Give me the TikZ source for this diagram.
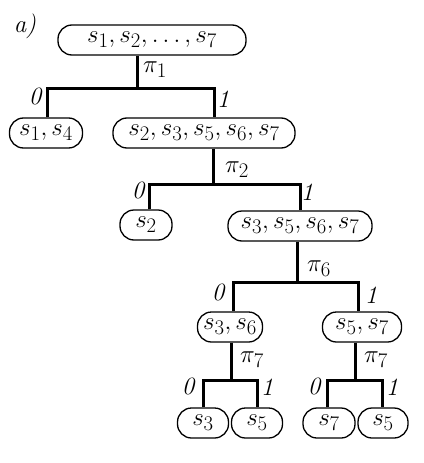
\documentclass[tikz,border=0pt]{standalone}
\begin{document}
\begin{tikzpicture}[x=1pt,y=-1pt,
  st/.style={draw,line width=1.3pt,rounded corners=14pt,minimum height=30pt,inner sep=1pt,font=\Huge},
  br/.style={line width=3pt},
  lab/.style={font=\Huge\itshape,inner sep=1pt},
  plab/.style={font=\Huge,inner sep=1pt}]
\useasboundingbox (0,0) rectangle (423,463);
\node[lab] (a) at (25,26) {a)};
\node[st,minimum width=188pt] (r) at (152,40) {$s_1, s_2, \ldots, s_7$};
\node[st,minimum width=73pt] (n1) at (46,133) {$s_1, s_4$};
\node[st,minimum width=182pt] (n2) at (204,133) {$s_2, s_3, s_5, s_6, s_7$};
\node[st,minimum width=52pt] (n3) at (146,225) {$s_2$};
\node[st,minimum width=144pt] (n4) at (300,226) {$s_3, s_5, s_6, s_7$};
\node[st,minimum width=65pt] (n5) at (230,327) {$s_3, s_6$};
\node[st,minimum width=79pt] (n6) at (362,327) {$s_5, s_7$};
\node[st,minimum width=51pt] (l1) at (203,423) {$s_3$};
\node[st,minimum width=51pt] (l2) at (257,423) {$s_5$};
\node[st,minimum width=52pt] (l3) at (329,423) {$s_7$};
\node[st,minimum width=50pt] (l4) at (383,423) {$s_5$};
% split 1
\coordinate (m1) at (137,88); \coordinate (a1) at (47,88); \coordinate (b1) at (214,88);
\draw[br] (r.south -| m1) -- (m1);
\draw[br] (n1.north -| a1) -- (a1) -- (b1) -- (n2.north -| b1);
\node[plab] (p1) at (155,70) {$\pi_1$};
\node[lab] (z1) at (35,96) {0};
\node[lab] (o1) at (223,99) {1};
% split 2
\coordinate (m2) at (213,184); \coordinate (a2) at (149,184); \coordinate (b2) at (300,184);
\draw[br] (n2.south -| m2) -- (m2);
\draw[br] (n3.north -| a2) -- (a2) -- (b2) -- (n4.north -| b2);
\node[plab] (p2) at (237,170) {$\pi_2$};
\node[lab] (z2) at (138,190) {0};
\node[lab] (o2) at (307,192) {1};
% split 3
\coordinate (m3) at (297,282); \coordinate (a3) at (233,282); \coordinate (b3) at (358,282);
\draw[br] (n4.south -| m3) -- (m3);
\draw[br] (n5.north -| a3) -- (a3) -- (b3) -- (n6.north -| b3);
\node[plab] (p3) at (319,269) {$\pi_6$};
\node[lab] (z3) at (218,292) {0};
\node[lab] (o3) at (371,295) {1};
% split 4
\coordinate (m4) at (231,380); \coordinate (a4) at (203,380); \coordinate (b4) at (257,380);
\draw[br] (n5.south -| m4) -- (m4);
\draw[br] (l1.north -| a4) -- (a4) -- (b4) -- (l2.north -| b4);
\node[plab] (p4) at (252,360) {$\pi_7$};
\node[lab] (z4) at (188,386) {0};
\node[lab] (o4) at (267,387) {1};
% split 5
\coordinate (m5) at (355,380); \coordinate (a5) at (327,380); \coordinate (b5) at (382,380);
\draw[br] (n6.south -| m5) -- (m5);
\draw[br] (l3.north -| a5) -- (a5) -- (b5) -- (l4.north -| b5);
\node[plab] (p5) at (376,360) {$\pi_7$};
\node[lab] (z5) at (314,386) {0};
\node[lab] (o5) at (392,387) {1};
\end{tikzpicture}
\end{document}
